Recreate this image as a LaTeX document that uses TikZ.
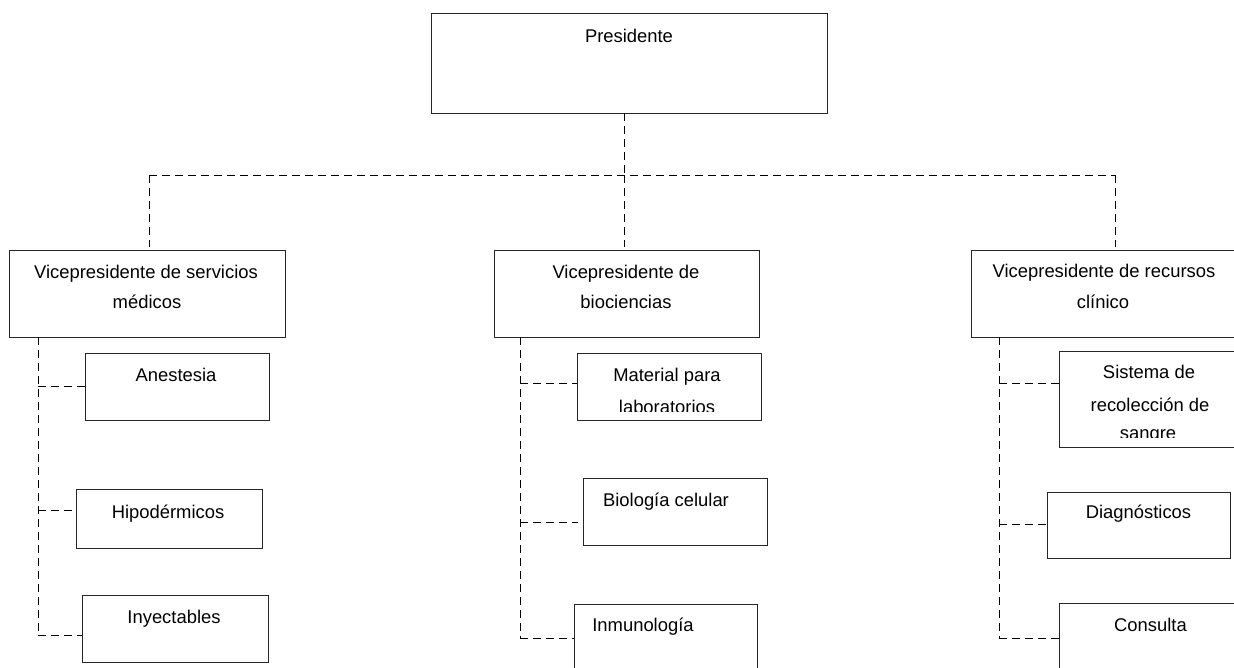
\documentclass[tikz,border=0pt]{standalone}
\usepackage{fontspec}
\setmainfont{Liberation Sans}
\begin{document}
\begin{tikzpicture}[x=1pt,y=-1pt,
  box/.style={draw=black!85, line width=1pt, inner sep=0pt, outer sep=0pt, anchor=north west},
  conn/.style={draw=black, line width=1pt, dash pattern=on 8pt off 5pt},
  lbl/.style={anchor=base, inner sep=0pt, font=\fontsize{18.4}{22}\selectfont}]
\clip (0,0) rectangle (1234,667);
\fill[white] (0,0) rectangle (1234,667);

% boxes
\node[box, minimum width=396pt, minimum height=100pt] (pres) at (431,13) {};
\node[box, minimum width=276pt, minimum height=87pt] (vpa) at (9,250) {};
\node[box, minimum width=265pt, minimum height=87pt] (vpb) at (494,250) {};
\node[box, minimum width=270pt, minimum height=87pt] (vpc) at (971,250) {};
\node[box, minimum width=184pt, minimum height=67pt] (a1) at (85,353) {};
\node[box, minimum width=186pt, minimum height=59pt] (a2) at (76,489) {};
\node[box, minimum width=186pt, minimum height=67pt] (a3) at (82,595) {};
\node[box, minimum width=184pt, minimum height=67pt] (b1) at (577,353) {};
\node[box, minimum width=184pt, minimum height=67pt] (b2) at (583,478) {};
\node[box, minimum width=183pt, minimum height=80pt] (b3) at (574,604) {};
\node[box, minimum width=190pt, minimum height=96pt] (c1) at (1059,351) {};
\node[box, minimum width=183pt, minimum height=66pt] (c2) at (1047,492) {};
\node[box, minimum width=190pt, minimum height=80pt] (c3) at (1059,603) {};

% labels
\node[lbl] (tpres) at (629,42) {Presidente};
\node[lbl] (tvpa1) at (146,278) {Vicepresidente de servicios};
\node[lbl] (tvpa2) at (147,308) {médicos};
\node[lbl] (tvpb1) at (626,278) {Vicepresidente de};
\node[lbl] (tvpb2) at (626,308) {biociencias};
\node[lbl] (tvpc1) at (1104,277) {Vicepresidente de recursos};
\node[lbl] (tvpc2) at (1103,308) {clínico};
\node[lbl] (ta1) at (176,381) {Anestesia};
\node[lbl] (ta2) at (168,518) {Hipodérmicos};
\node[lbl] (ta3) at (174,623) {Inyectables};
\node[lbl] (tb1a) at (667,381) {Material para};
\begin{scope}
  \clip (577,353) rectangle (761,411);
  \node[lbl] (tb1b) at (667,413) {laboratorios};
\end{scope}
\node[lbl] (tb2) at (666,506) {Biología celular};
\node[lbl] (tb3) at (643,631) {Inmunología};
\node[lbl] (tc1a) at (1149,378) {Sistema de};
\node[lbl] (tc1b) at (1150,411) {recolección de};
\begin{scope}
  \clip (1059,351) rectangle (1234,437);
  \node[lbl] (tc1c) at (1148,439) {sangre};
\end{scope}
\node[lbl] (tc2) at (1138.5,518) {Diagnósticos};
\node[lbl] (tc3) at (1150.5,631) {Consulta};

% top connectors
\coordinate (jt) at (624,175);
\coordinate (jl) at (149,175);
\coordinate (jr) at (1115,175);
\draw[conn] (pres.south -| jt) -- (jt);
\draw[conn] (jl) -- (jr);
\draw[conn] (jl) -- ([yshift=3pt]vpa.north -| jl);
\draw[conn] (jt) -- ([yshift=3pt]vpb.north -| jt);
\draw[conn] (jr) -- ([yshift=3pt]vpc.north -| jr);

% left column
\coordinate (ax) at (38,635);
\coordinate (ab1) at (38,386);
\coordinate (ab2) at (38,510);
\draw[conn] (vpa.south -| ax) -- (ax);
\draw[conn] (ab1) -- (ab1 -| a1.west);
\draw[conn] (ab2) -- (ab2 -| a2.west);
\draw[conn] (ax) -- (ax -| a3.west);

% middle column
\coordinate (bx) at (520,638);
\coordinate (bb1) at (520,383);
\coordinate (bb2) at (520,522);
\draw[conn] (vpb.south -| bx) -- (bx);
\draw[conn] (bb1) -- (bb1 -| b1.west);
\draw[conn] (bb2) -- ([xshift=-5pt]bb2 -| b2.west);
\draw[conn] (bx) -- (bx -| b3.west);

% right column
\coordinate (cx) at (999,638);
\coordinate (cb1) at (999,383);
\coordinate (cb2) at (999,524);
\draw[conn] (vpc.south -| cx) -- (cx);
\draw[conn] (cb1) -- (cb1 -| c1.west);
\draw[conn] (cb2) -- (cb2 -| c2.west);
\draw[conn] (cx) -- (cx -| c3.west);
\end{tikzpicture}
\end{document}
